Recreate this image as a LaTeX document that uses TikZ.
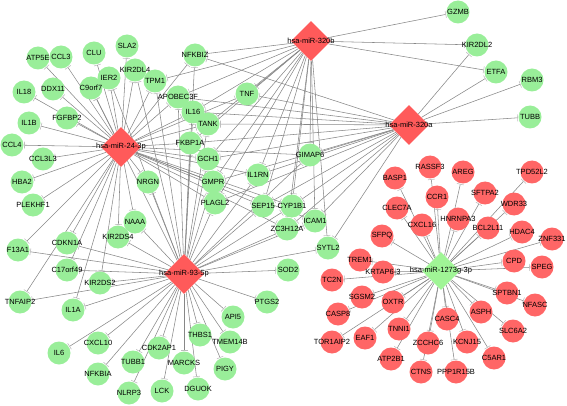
\documentclass[tikz,border=0pt]{standalone}
\usepackage{fontspec}
\setmainfont{Liberation Sans}
\usetikzlibrary{shapes.geometric,arrows.meta,backgrounds}
\definecolor{gnc}{RGB}{153,238,153}
\definecolor{rnc}{RGB}{255,102,102}
\definecolor{hubc}{RGB}{255,90,90}
\definecolor{ghubc}{RGB}{160,245,150}
\definecolor{edgec}{RGB}{135,135,135}
\definecolor{teec}{RGB}{190,190,190}
\tikzset{
  lab/.style={font=\fontsize{7.5}{8}\selectfont, inner sep=0pt, text=black},
  gn/.style={circle, fill=gnc, draw=none, minimum size=23pt, inner sep=0pt, label={[lab]center:#1}},
  rn/.style={circle, fill=rnc, draw=none, minimum size=23pt, inner sep=0pt, label={[lab]center:#1}},
  hubr/.style={diamond, fill=hubc, draw=none, minimum width=40pt, minimum height=40pt, inner sep=0pt},
  hubg/.style={diamond, fill=ghubc, draw=none, minimum width=38pt, minimum height=38pt, inner sep=0pt},
  inh/.style={draw=edgec, line width=0.55pt, -{Bar[width=7pt,line width=0.6pt,color=teec]}, shorten >=0.5pt},
}
\begin{document}
\begin{tikzpicture}[x=1pt,y=-1pt]
\useasboundingbox (0,0) rectangle (567,406);
% hubs
\node[hubr] (b) at (311,41) {};
\node[hubr] (a) at (409,125) {};
\node[hubr] (m24) at (121,147) {};
\node[hubr] (m93) at (184,274) {};
\node[hubg] (g) at (441,271) {};
% green nodes
\node[gn=ATP5E] (ATP5E) at (38,58) {};
\node[gn=CCL3] (CCL3) at (61,57) {};
\node[gn=CLU] (CLU) at (94,53) {};
\node[gn=SLA2] (SLA2) at (127,46) {};
\node[gn=IER2] (IER2) at (109,78) {};
\node[gn=KIR2DL4] (KIR2DL4) at (135,70) {};
\node[gn=C9orf7] (C9orf7) at (91,88) {};
\node[gn=TPM1] (TPM1) at (155,81) {};
\node[gn=DDX11] (DDX11) at (53,89) {};
\node[gn=IL18] (IL18) at (24,92) {};
\node[gn=FGFBP2] (FGFBP2) at (67,118) {};
\node[gn=IL1B] (IL1B) at (29,123) {};
\node[gn=NFKBIZ] (NFKBIZ) at (195,55) {};
\node[gn=APOBEC3F] (APOBEC3F) at (178,97) {};
\node[gn=IL16] (IL16) at (193,112) {};
\node[gn=TNF] (TNF) at (247,94) {};
\node[gn=TANK] (TANK) at (208,124) {};
\node[gn=FKBP1A] (FKBP1A) at (190,143) {};
\node[gn=GCH1] (GCH1) at (208,159) {};
\node[gn=GIMAP6] (GIMAP6) at (310,155) {};
\node[gn=IL1RN] (IL1RN) at (258,175) {};
\node[gn=GMPR] (GMPR) at (213,182) {};
\node[gn=PLAGL2] (PLAGL2) at (215,203) {};
\node[gn=SEP15] (SEP15) at (263,206) {};
\node[gn=CYP1B1] (CYP1B1) at (292,206) {};
\node[gn=ICAM1] (ICAM1) at (315,221) {};
\node[gn=ZC3H12A] (ZC3H12A) at (287,229) {};
\node[gn=SYTL2] (SYTL2) at (328,248) {};
\node[gn=SOD2] (SOD2) at (288,270) {};
\node[gn=PTGS2] (PTGS2) at (267,302) {};
\node[gn=API5] (API5) at (233,317) {};
\node[gn=THBS1] (THBS1) at (200,335) {};
\node[gn=TMEM14B] (TMEM14B) at (230,342) {};
\node[gn=PIGY] (PIGY) at (225,369) {};
\node[gn=DGUOK] (DGUOK) at (198,389) {};
\node[gn=MARCKS] (MARCKS) at (184,363) {};
\node[gn=LCK] (LCK) at (162,391) {};
\node[gn=CDK2AP1] (CDK2AP1) at (159,348) {};
\node[gn=TUBB1] (TUBB1) at (133,362) {};
\node[gn=NLRP3] (NLRP3) at (129,393) {};
\node[gn=NFKBIA] (NFKBIA) at (98,374) {};
\node[gn=CXCL10] (CXCL10) at (98,343) {};
\node[gn=IL6] (IL6) at (59,353) {};
\node[gn=IL1A] (IL1A) at (73,310) {};
\node[gn=TNFAIP2] (TNFAIP2) at (20,302) {};
\node[gn=KIR2DS2] (KIR2DS2) at (100,283) {};
\node[gn=C17orf49] (C17orf49) at (67,270) {};
\node[gn=CDKN1A] (CDKN1A) at (67,243) {};
\node[gn=F13A1] (F13A1) at (18,250) {};
\node[gn=KIR2DS4] (KIR2DS4) at (118,237) {};
\node[gn=NAAA] (NAAA) at (135,222) {};
\node[gn=NRGN] (NRGN) at (148,182) {};
\node[gn=PLEKHF1] (PLEKHF1) at (33,205) {};
\node[gn=HBA2] (HBA2) at (22,182) {};
\node[gn=CCL3L3] (CCL3L3) at (43,159) {};
\node[gn=CCL4] (CCL4) at (12,145) {};
\node[gn=GZMB] (GZMB) at (458,12) {};
\node[gn=KIR2DL2] (KIR2DL2) at (477,45) {};
\node[gn=ETFA] (ETFA) at (496,72) {};
\node[gn=RBM3] (RBM3) at (532,80) {};
\node[gn=TUBB] (TUBB) at (530,117) {};
% red nodes
\node[rn=RASSF3] (RASSF3) at (430,167) {};
\node[rn=BASP1] (BASP1) at (395,178) {};
\node[rn=AREG] (AREG) at (463,172) {};
\node[rn=TPD52L2] (TPD52L2) at (532,172) {};
\node[rn=CCR1] (CCR1) at (437,197) {};
\node[rn=SFTPA2] (SFTPA2) at (485,193) {};
\node[rn=WDR33] (WDR33) at (514,204) {};
\node[rn=CLEC7A] (CLEC7A) at (397,208) {};
\node[rn=HNRNPA3] (HNRNPA3) at (458,219) {};
\node[rn=CXCL16] (CXCL16) at (422,225) {};
\node[rn=BCL2L11] (BCL2L11) at (488,228) {};
\node[rn=HDAC4] (HDAC4) at (522,232) {};
\node[rn=SFPQ] (SFPQ) at (382,236) {};
\node[rn=ZNF331] (ZNF331) at (552,239) {};
\node[rn=CPD] (CPD) at (514,261) {};
\node[rn=SPEG] (SPEG) at (542,267) {};
\node[rn=TREM1] (TREM1) at (360,260) {};
\node[rn=KRTAP6-3] (KRTAP) at (383,272) {};
\node[rn=TC2N] (TC2N) at (332,280) {};
\node[rn=SGSM2] (SGSM2) at (362,297) {};
\node[rn=CASP8] (CASP8) at (338,314) {};
\node[rn=TOR1AIP2] (TOR1AIP2) at (332,342) {};
\node[rn=EAF1] (EAF1) at (365,338) {};
\node[rn=OXTR] (OXTR) at (393,302) {};
\node[rn=TNNI1] (TNNI1) at (399,329) {};
\node[rn=ATP2B1] (ATP2B1) at (391,359) {};
\node[rn=ZCCHC6] (ZCCHC6) at (428,343) {};
\node[rn=CTNS] (CTNS) at (421,372) {};
\node[rn=CASC4] (CASC4) at (447,319) {};
\node[rn=PPP1R15B] (PPP1R15B) at (456,372) {};
\node[rn=KCNJ15] (KCNJ15) at (467,342) {};
\node[rn=C5AR1] (C5AR1) at (494,358) {};
\node[rn=ASPH] (ASPH) at (481,312) {};
\node[rn=SLC6A2] (SLC6A2) at (513,331) {};
\node[rn=SPTBN1] (SPTBN1) at (507,293) {};
\node[rn=NFASC] (NFASC) at (535,305) {};
% hub labels
\node[lab] at (b) {hsa-miR-320b};
\node[lab] at (a) {hsa-miR-320a};
\node[lab] at (m24) {hsa-miR-24-3p};
\node[lab] at (m93) {hsa-miR-93-5p};
\node[lab] at (g) {hsa-miR-1273g-3p};
% edges
\begin{pgfonlayer}{background}
\foreach \t in {ATP5E,CCL3,CLU,SLA2,IER2,KIR2DL4,C9orf7,TPM1,DDX11,IL18,FGFBP2,IL1B,CCL4,CCL3L3,HBA2,PLEKHF1,F13A1,CDKN1A,C17orf49,TNFAIP2,IL1A,KIR2DS2,NRGN,NAAA,KIR2DS4,NFKBIZ,APOBEC3F,IL16,TANK,FKBP1A,GCH1,GMPR,PLAGL2,IL1RN,GIMAP6,SEP15,CYP1B1,ZC3H12A,ICAM1,TNF}
  \draw[inh] (m24) -- (\t);
\foreach \t in {TNFAIP2,IL1A,IL6,CXCL10,NFKBIA,TUBB1,NLRP3,CDK2AP1,LCK,MARCKS,DGUOK,THBS1,PIGY,TMEM14B,API5,PTGS2,SOD2,SYTL2,KIR2DS2,C17orf49,CDKN1A,F13A1,KIR2DS4,NAAA,NRGN,PLAGL2,GMPR,SEP15,CYP1B1,ZC3H12A,ICAM1,GIMAP6,IL1RN,GCH1,FKBP1A,TANK,IL16,APOBEC3F,TPM1,KIR2DL4,IER2,C9orf7,NFKBIZ}
  \draw[inh] (m93) -- (\t);
\foreach \t in {GZMB,KIR2DL2,ETFA,NFKBIZ,TPM1,APOBEC3F,IL16,TNF,TANK,FKBP1A,GCH1,GMPR,PLAGL2,IL1RN,GIMAP6,SEP15,CYP1B1,ZC3H12A,ICAM1,SYTL2}
  \draw[inh] (b) -- (\t);
\foreach \t in {TUBB,RBM3,ETFA,KIR2DL2,NFKBIZ,TNF,IL16,TANK,APOBEC3F,FKBP1A,GCH1,GMPR,PLAGL2,IL1RN,GIMAP6,SEP15,CYP1B1,ICAM1,ZC3H12A,SYTL2}
  \draw[inh] (a) -- (\t);
\foreach \t in {RASSF3,BASP1,AREG,TPD52L2,CCR1,SFTPA2,WDR33,CLEC7A,HNRNPA3,CXCL16,BCL2L11,HDAC4,SFPQ,ZNF331,CPD,SPEG,TREM1,KRTAP,TC2N,SGSM2,CASP8,TOR1AIP2,EAF1,OXTR,TNNI1,ATP2B1,ZCCHC6,CTNS,CASC4,PPP1R15B,KCNJ15,C5AR1,ASPH,SLC6A2,SPTBN1,NFASC}
  \draw[inh] (g) -- (\t);
\end{pgfonlayer}
\end{tikzpicture}
\end{document}
